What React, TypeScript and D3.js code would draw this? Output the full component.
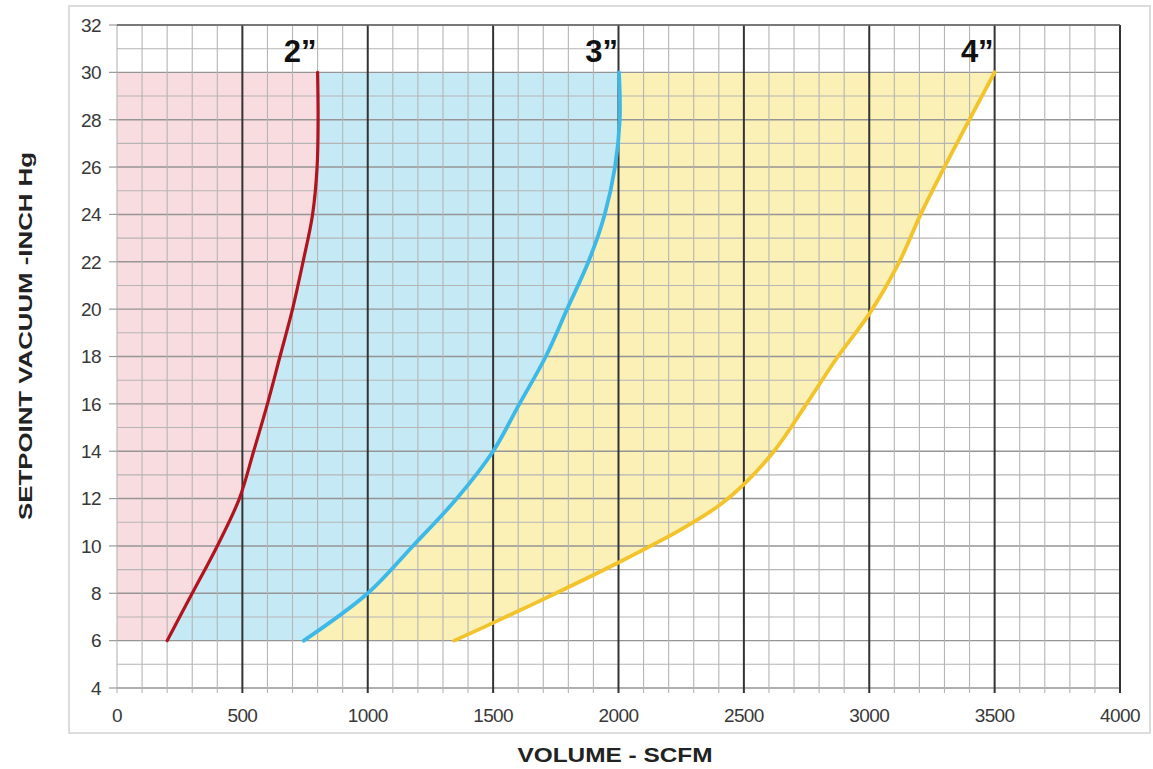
import React from "react";
import * as d3 from "d3";

const xTicks = [0, 500, 1000, 1500, 2000, 2500, 3000, 3500, 4000];
const yTicks = [4, 6, 8, 10, 12, 14, 16, 18, 20, 22, 24, 26, 28, 30, 32];

// [SCFM, inch Hg]
const pipe2: [number, number][] = [
  [200, 6], [300, 8], [400, 10], [488, 12], [545, 14], [600, 16], [650, 18],
  [700, 20], [742, 22], [780, 24], [798, 26], [802, 28], [800, 30],
];
const pipe3: [number, number][] = [
  [745, 6], [1000, 8], [1180, 10], [1355, 12], [1500, 14], [1605, 16], [1710, 18],
  [1795, 20], [1880, 22], [1945, 24], [1986, 26], [2005, 28], [2002, 30],
];
const pipe4: [number, number][] = [
  [1345, 6], [1500, 6.75], [1750, 8], [2000, 9.3], [2250, 10.7], [2400, 11.7],
  [2500, 12.6], [2620, 14], [2750, 16], [2875, 18], [3000, 19.8], [3120, 22],
  [3205, 24], [3300, 26], [3500, 30],
];
const labels = ["2”", "3”", "4”"];

const FONT = "'Liberation Sans', Arial, sans-serif";

export default function App() {
  const x = d3.scaleLinear().domain([0, 4000]).range([117, 1120]);
  const y = d3.scaleLinear().domain([4, 32]).range([688, 25]);
  const line = d3
    .line<[number, number]>()
    .x((d) => x(d[0]))
    .y((d) => y(d[1]))
    .curve(d3.curveCatmullRom.alpha(0.5));

  const rev = (a: [number, number][]) => a.slice().reverse();
  const join = (a: [number, number][], b: [number, number][]) =>
    `${line(a)}L${(line(rev(b)) as string).slice(1)}Z`;

  const pinkPath = `${line(pipe2)}L${x(0)},${y(30)}L${x(0)},${y(6)}Z`;
  const bluePath = join(pipe2, pipe3);
  const yellowPath = join(pipe3, pipe4);

  const minorX = d3.range(0, 4001, 100);
  const minorY = d3.range(4, 33, 1);
  const series = [pipe2, pipe3, pipe4];
  const colors = ["#b3131d", "#3cb9e8", "#f3c32c"];

  return (
    <svg
      width={1153}
      height={769}
      style={{ position: "absolute", left: 0, top: 0, background: "#fff" }}
    >
      <rect x={0} y={0} width={1153} height={769} fill="#fff" />
      <rect x={69} y={6} width={1081} height={727} fill="#fff" stroke="#dcdcdc" strokeWidth={2} />

      {/* fills */}
      <path d={pinkPath} fill="#f9dcdf" />
      <path d={bluePath} fill="#c6e9f6" />
      <path d={yellowPath} fill="#fbf0b6" />

      {/* grid */}
      {minorY.map((v) => (
        <line
          key={"hy" + v}
          x1={x(0)}
          x2={x(4000)}
          y1={y(v)}
          y2={y(v)}
          stroke={v % 2 === 0 ? "#959595" : "#b5b5b5"}
          strokeWidth={v % 2 === 0 ? 1.4 : 1.1}
        />
      ))}
      {minorX.map((v) => (
        <line
          key={"vx" + v}
          x1={x(v)}
          x2={x(v)}
          y1={y(32)}
          y2={y(4) + 5}
          stroke={v % 500 === 0 && v > 0 ? "#333" : "#b5b5b5"}
          strokeWidth={v % 500 === 0 && v > 0 ? 2 : 1.1}
        />
      ))}
      <line x1={x(0)} x2={x(4000)} y1={y(32)} y2={y(32)} stroke="#666" strokeWidth={1.5} />

      {/* y ticks and labels */}
      {yTicks.map((v) => (
        <g key={"yt" + v}>
          <line x1={x(0) - 8} x2={x(0)} y1={y(v)} y2={y(v)} stroke="#999" strokeWidth={1.2} />
          <text
            x={101}
            y={y(v)}
            dy="0.36em"
            textAnchor="end"
            fontFamily={FONT}
            fontSize={19}
            letterSpacing={-0.6}
            fill="#383838"
          >
            {v}
          </text>
        </g>
      ))}
      {xTicks.map((v) => (
        <text
          key={"xt" + v}
          x={x(v)}
          y={722}
          textAnchor="middle"
          fontFamily={FONT}
          fontSize={19}
          letterSpacing={-0.6}
          fill="#383838"
        >
          {v}
        </text>
      ))}

      {/* curves */}
      {series.map((s, i) => (
        <path
          key={"s" + i}
          d={line(s) as string}
          fill="none"
          stroke={colors[i]}
          strokeWidth={i === 0 ? 3.2 : 3.8}
          strokeLinecap="round"
        />
      ))}

      {series.map((s, i) => (
        <text
          key={"l" + i}
          x={x(s[s.length - 1][0]) - 1}
          y={62}
          textAnchor="end"
          fontFamily={FONT}
          fontWeight="bold"
          fontSize={31}
          fill="#111"
        >
          {labels[i]}
        </text>
      ))}

      {/* axis titles */}
      <text
        x={615}
        y={762}
        textAnchor="middle"
        fontFamily={FONT}
        fontWeight="bold"
        fontSize={20}
        textLength={195}
        lengthAdjust="spacingAndGlyphs"
        fill="#222"
      >
        VOLUME - SCFM
      </text>
      <text
        transform={`translate(32,336) rotate(-90)`}
        textAnchor="middle"
        fontFamily={FONT}
        fontWeight="bold"
        fontSize={19}
        textLength={368}
        lengthAdjust="spacingAndGlyphs"
        fill="#222"
      >
        SETPOINT VACUUM -INCH Hg
      </text>
    </svg>
  );
}
